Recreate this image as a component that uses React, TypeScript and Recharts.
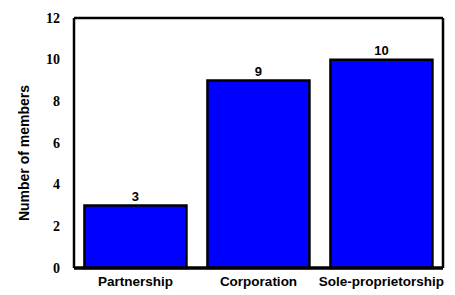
import { BarChart, Bar, XAxis, YAxis, LabelList, Label } from "recharts";

// Membership by business type
const categories = ["Partnership", "Corporation", "Sole-proprietorship"];
const members = [3, 9, 10];
const yTicks = [0, 2, 4, 6, 8, 10, 12];

const SANS = "Arial, 'Liberation Sans', sans-serif";
const SERIF = "'Liberation Serif', 'Times New Roman', 'DejaVu Serif', serif";

const data = categories.map((name, i) => ({ name, value: members[i] }));

// y tick labels are in a bold serif face
function SerifTick(props: any) {
    const { x, y, payload } = props;
    return (
        <text
            x={x}
            y={y}
            textAnchor="end"
            dominantBaseline="central"
            fontFamily={SERIF}
            fontWeight="bold"
            fontSize={14}
            fill="#000"
        >
            {payload.value}
        </text>
    );
}

function YTitle(props: any) {
    const vb = props.viewBox || { x: 0, y: 0, width: 0, height: 0 };
    const cx = vb.x + 24;
    const cy = vb.y + vb.height / 2 + 10;
    return (
        <text
            x={cx}
            y={cy}
            transform={`rotate(-90 ${cx} ${cy})`}
            textAnchor="middle"
            dominantBaseline="central"
            fontFamily={SANS}
            fontWeight="bold"
            fontSize={14}
            fill="#000"
        >
            Number of members
        </text>
    );
}

export default function App() {
    return (
        <div style={{ width: 455, height: 295, background: "#fff" }}>
            <style>{`body{margin:0}`}</style>
            <BarChart
                width={455}
                height={295}
                data={data}
                margin={{ top: 17, right: 11, bottom: 0, left: 0 }}
                barCategoryGap="8.5%"
            >
                <XAxis
                    dataKey="name"
                    height={27}
                    tickLine={false}
                    axisLine={{ stroke: "#000", strokeWidth: 3.5 }}
                    tick={{ fill: "#000", fontFamily: SANS, fontWeight: "bold", fontSize: 13.5 }}
                    tickMargin={2}
                />
                <XAxis
                    xAxisId="top"
                    orientation="top"
                    dataKey="name"
                    height={1}
                    tick={false}
                    tickLine={false}
                    axisLine={{ stroke: "#000", strokeWidth: 2.5 }}
                />
                <YAxis
                    width={74}
                    domain={[0, 12]}
                    ticks={yTicks}
                    tickLine={false}
                    axisLine={{ stroke: "#000", strokeWidth: 2.5 }}
                    tick={<SerifTick />}
                    tickMargin={8}
                >
                    <Label content={<YTitle />} />
                </YAxis>
                <YAxis
                    yAxisId="right"
                    orientation="right"
                    width={1}
                    domain={[0, 12]}
                    ticks={yTicks}
                    tick={false}
                    tickLine={false}
                    axisLine={{ stroke: "#000", strokeWidth: 2.5 }}
                />
                <Bar
                    dataKey="value"
                    fill="#0000FF"
                    stroke="#000"
                    strokeWidth={2.5}
                    isAnimationActive={false}
                >
                    <LabelList
                        dataKey="value"
                        position="top"
                        offset={5}
                        fill="#000"
                        fontFamily={SANS}
                        fontWeight="bold"
                        fontSize={13}
                    />
                </Bar>
            </BarChart>
        </div>
    );
}
